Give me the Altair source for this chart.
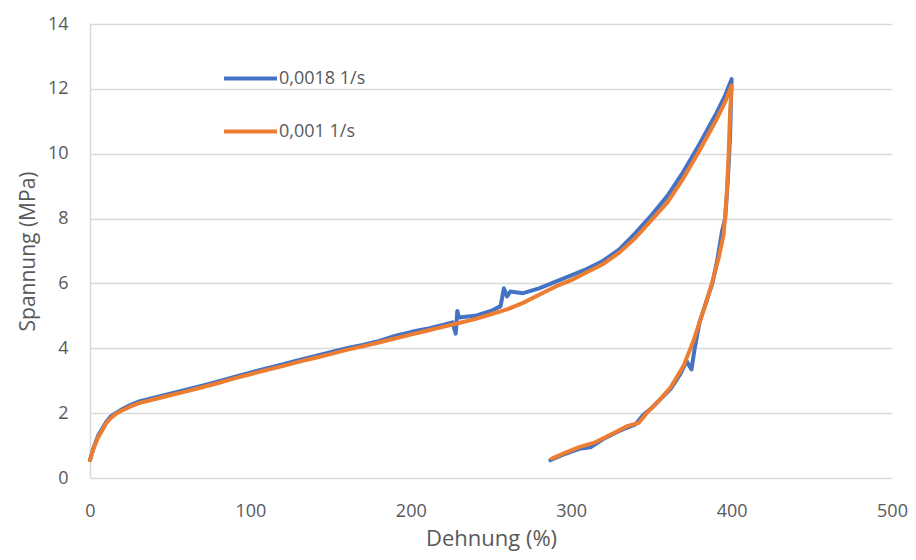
import altair as alt
import pandas as pd

S1 = "0,0018 1/s"
S2 = "0,001 1/s"

blue_x = [0, 2, 5, 8, 10, 13, 16, 20, 25, 30, 40, 50, 60, 70, 80, 90, 100, 110, 120, 130,
          140, 150, 160, 170, 180, 190, 200, 210, 220, 226, 228, 229, 230, 240, 250, 256,
          258, 260, 262, 270, 280, 290, 300, 310, 320, 330, 340, 350, 360, 370, 380, 390,
          396, 400,
          399, 398, 397, 396, 394, 391, 388, 384, 380, 377, 375, 372, 368, 362, 355, 350,
          345, 340, 330, 320, 312, 305, 295, 287]
blue_y = [0.55, 0.9, 1.3, 1.55, 1.72, 1.9, 2.0, 2.12, 2.25, 2.35, 2.48, 2.6, 2.72, 2.85,
          2.98, 3.12, 3.25, 3.38, 3.5, 3.63, 3.76, 3.88, 4.0, 4.1, 4.22, 4.38, 4.5, 4.6,
          4.72, 4.8, 4.45, 5.15, 4.95, 5.0, 5.15, 5.3, 5.85, 5.6, 5.75, 5.7, 5.85, 6.05,
          6.25, 6.45, 6.7, 7.05, 7.55, 8.1, 8.7, 9.45, 10.3, 11.2, 11.8, 12.3,
          10.5, 9.5, 8.7, 8.0, 7.6, 6.7, 6.0, 5.4, 4.8, 4.0, 3.35, 3.6, 3.2, 2.75, 2.4,
          2.15, 1.95, 1.65, 1.45, 1.2, 0.95, 0.9, 0.72, 0.55]

orange_x = [0, 2, 5, 8, 10, 13, 16, 20, 25, 30, 40, 50, 60, 70, 80, 90, 100, 110, 120, 130,
            140, 150, 160, 170, 180, 190, 200, 210, 220, 230, 240, 250, 260, 270, 280, 290,
            300, 310, 320, 330, 340, 350, 360, 370, 380, 390, 396, 400,
            399, 398, 397, 396, 395, 392, 388, 384, 380, 376, 370, 362, 355, 348, 342, 335,
            325, 315, 305, 295, 288]
orange_y = [0.55, 0.88, 1.25, 1.5, 1.68, 1.85, 1.97, 2.08, 2.2, 2.3, 2.43, 2.55, 2.67, 2.8,
            2.93, 3.07, 3.2, 3.33, 3.45, 3.58, 3.7, 3.82, 3.95, 4.06, 4.18, 4.3, 4.42, 4.54,
            4.66, 4.78, 4.9, 5.05, 5.2, 5.4, 5.65, 5.9, 6.1, 6.35, 6.6, 6.95, 7.4, 7.95,
            8.5, 9.25, 10.1, 11.0, 11.6, 12.1,
            11.2, 9.8, 8.8, 8.1, 7.5, 6.8, 6.05, 5.4, 4.8, 4.2, 3.45, 2.8, 2.4, 2.05, 1.7,
            1.6, 1.35, 1.1, 0.95, 0.75, 0.6]

x_ticks = [0, 100, 200, 300, 400, 500]
y_ticks = [0, 2, 4, 6, 8, 10, 12, 14]

rows = []
for i, (x, y) in enumerate(zip(blue_x, blue_y)):
    rows.append({"series": S1, "x": x, "y": y, "i": i})
for i, (x, y) in enumerate(zip(orange_x, orange_y)):
    rows.append({"series": S2, "x": x, "y": y, "i": i})
df = pd.DataFrame(rows)

FONT = "Open Sans"
GRAY = "#595959"

chart = alt.Chart(df).mark_line(strokeWidth=4, strokeJoin="round", strokeCap="round").encode(
    x=alt.X("x:Q", scale=alt.Scale(domain=[0, 500], nice=False),
            axis=alt.Axis(title="Dehnung (%)", values=x_ticks, grid=False, domain=False,
                          ticks=False, labelFlush=False, labelPadding=24, titlePadding=8)),
    y=alt.Y("y:Q", scale=alt.Scale(domain=[0, 14], nice=False),
            axis=alt.Axis(title="Spannung (MPa)", values=y_ticks, grid=True, domain=True,
                          ticks=False, labelPadding=22, titlePadding=9,
                          titleFontSize=21)),
    color=alt.Color("series:N", sort=[S1, S2],
                    scale=alt.Scale(domain=[S1, S2], range=["#4472C4", "#ED7D31"]),
                    legend=alt.Legend(title=None, orient="none", legendX=132, legendY=26,
                                      symbolType="stroke", symbolSize=2809,
                                      symbolStrokeWidth=4, rowPadding=15, labelOffset=0,
                                      labelFontSize=18, labelColor=GRAY, labelFont=FONT)),
    detail="series:N",
    order="i:Q",
).properties(
    width=802, height=454,
    autosize=alt.AutoSizeParams(type="none"),
    padding={"left": 82, "top": 16, "right": 16, "bottom": 74},
).configure_view(stroke=None).configure_axis(
    labelFont=FONT, titleFont=FONT, labelFontSize=18, titleFontSize=22,
    labelColor=GRAY, titleColor=GRAY, titleFontWeight="normal",
    gridColor="#D9D9D9", gridWidth=1.5, domainColor="#D9D9D9", domainWidth=1.5,
)

chart.save("out.html", embed_options={"renderer": "svg", "actions": False})
